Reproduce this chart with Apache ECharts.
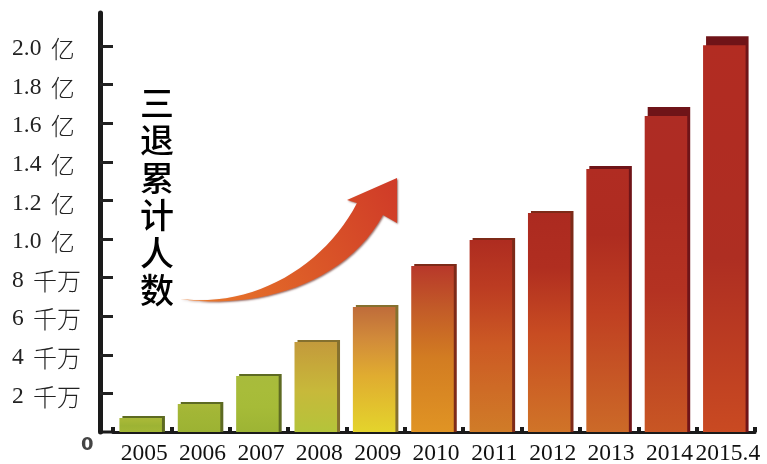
<!DOCTYPE html>
<html><head><meta charset="utf-8">
<style>html,body{margin:0;padding:0;background:#fff}#c{width:767px;height:464px}</style>
<script src="https://cdn.jsdelivr.net/npm/echarts@6/dist/echarts.min.js"></script>
</head><body><div id="c"></div>
<script>
const categories = ['2005','2006','2007','2008','2009','2010','2011','2012','2013','2014','2015.4'];
const values = [0.083,0.155,0.30,0.477,0.658,0.87,1.005,1.145,1.378,1.684,2.05];
const tickValues = [0.2,0.4,0.6,0.8,1.0,1.2,1.4,1.6,1.8,2.0];
const tickNumbers = ['2','4','6','8','1.0','1.2','1.4','1.6','1.8','2.0'];
const tickUnits = ['千万','千万','千万','千万','亿','亿','亿','亿','亿','亿'];
const titleChars = ['三','退','累','计','人','数'];

const gradients = [
 ['#a9b93a','#a5b736','#9db334','#a3b735'],['#a9b83a','#a3b636','#a0b535','#9cb233'],['#a8bb3c','#a8bc3a','#a6bb38','#9db434'],
 ['#c39a3c','#c6a83a','#c7b93a','#b4c43a'],['#bf6c3a','#d18a3a','#e0ac30','#e4d42c'],['#b8382a','#c25a28','#d27c22','#e09424'],
 ['#ae2c20','#bc3c22','#cc5a24','#d07c28'],['#ac2a20','#b02e20','#c84c22','#d07428'],['#b02c22','#ae2c20','#c04022','#cc6a28'],
 ['#ae2c24','#ae2c22','#b43222','#c85624'],['#b22c22','#b02c22','#ae2e22','#c94a22']
];
const chart = echarts.init(document.getElementById('c'), null, {renderer:'canvas'});
const serif = '"Liberation Serif",serif';
const capHeight = (v)=> v>1.6 ? 9 : v>1.3 ? 3 : 2;
const sideColor = (v)=> v>1.3 ? '#6f1418' : v>0.8 ? '#7d2a18' : v>0.4 ? '#85702e' : '#5d6a22';

// arrow outline: sampled cubic segments
function cubic(p0,p1,p2,p3){const out=[];for(let k=1;k<=24;k++){const t=k/24,u=1-t;
 out.push([u*u*u*p0[0]+3*u*u*t*p1[0]+3*u*t*t*p2[0]+t*t*t*p3[0],u*u*u*p0[1]+3*u*u*t*p1[1]+3*u*t*t*p2[1]+t*t*t*p3[1]]);}return out;}
const arrow=[[180,299],
 ...cubic([180,299],[255,308],[325,265],[357,203]),
 [347,200],[397,178],[397,223],[383,215],
 ...cubic([383,215],[345,285],[255,310],[180,299])];

chart.setOption({
 animation:false,
 backgroundColor:'#fff',
 grid:{left:113,right:12,top:13,bottom:32,containLabel:false,outerBoundsMode:'none'},
 xAxis:{type:'category',data:categories,
  axisLine:{show:true,lineStyle:{color:'#1a1a1a',width:3}},
  axisTick:{show:true,inside:true,alignWithLabel:false,length:5,lineStyle:{color:'#1a1a1a',width:4}},
  axisLabel:{show:true,interval:0,color:'#111',fontFamily:serif,fontSize:23.5,margin:10,padding:[0,0,0,4],hideOverlap:false}},
 yAxis:{type:'value',min:0,max:2.171,offset:13,splitLine:{show:false},
  axisLine:{show:true,lineStyle:{color:'#1a1a1a',width:5}},
  axisTick:{show:true,inside:true,length:13,customValues:tickValues,lineStyle:{color:'#222',width:3}},
  axisLabel:{show:true,customValues:tickValues,align:'left',margin:88,color:'#222',
   padding:[6,0,0,0],
   formatter:(v)=>{const k=tickValues.indexOf(v);return k<0?'':'{n|'+tickNumbers[k]+'} {u|'+tickUnits[k]+'}';},
   rich:{n:{fontFamily:serif,fontSize:23.5,color:'#222'},
         u:{fontFamily:'"Noto Sans CJK SC",sans-serif',fontWeight:300,fontSize:24,color:'#222',padding:[0,0,0,6]}}}},
 series:[{type:'custom',encode:{x:0,y:1},clip:false,
  data:values.map((v,i)=>[i,v]),
  renderItem:(params,api)=>{
   const i=api.value(0), v=api.value(1);
   const c=api.coord([i,v]), b=api.coord([i,0]);
   const w=api.size([1,0])[0]*0.78, x=c[0]-w/2, cap=capHeight(v), g=gradients[i];
   return {type:'group',children:[
    {type:'rect',shape:{x:x+3,y:c[1],width:w-3,height:b[1]-c[1]},style:{fill:sideColor(v)}},
    {type:'rect',shape:{x:x,y:c[1]+cap,width:w-3,height:b[1]-c[1]-cap},style:{fill:new echarts.graphic.LinearGradient(0,0,0,1,[
      {offset:0,color:g[0]},{offset:0.25,color:g[1]},{offset:0.55,color:g[2]},{offset:1,color:g[3]}])}}
   ]};
  }
 }],
 graphic:[
  {type:'line',shape:{x1:100,y1:432,x2:113,y2:432},style:{stroke:'#1a1a1a',lineWidth:3}},
  {type:'text',x:81,y:436,style:{text:'0',font:'bold 18px "DejaVu Sans",sans-serif',fill:'#444'}},
  {type:'text',x:140,y:84,style:{text:titleChars.join('\n'),font:'500 34px "Noto Sans CJK SC",sans-serif',lineHeight:37.5,fill:'#000'}},
  {type:'polygon',shape:{points:arrow},
   style:{shadowColor:'rgba(90,20,10,0.6)',shadowBlur:2,shadowOffsetX:1,shadowOffsetY:1,
    fill:new echarts.graphic.LinearGradient(0,1,1,0,[{offset:0,color:'#ea7a2a'},{offset:0.5,color:'#dc5a28'},{offset:1,color:'#cf3a28'}])}}
 ]
});
</script></body></html>
